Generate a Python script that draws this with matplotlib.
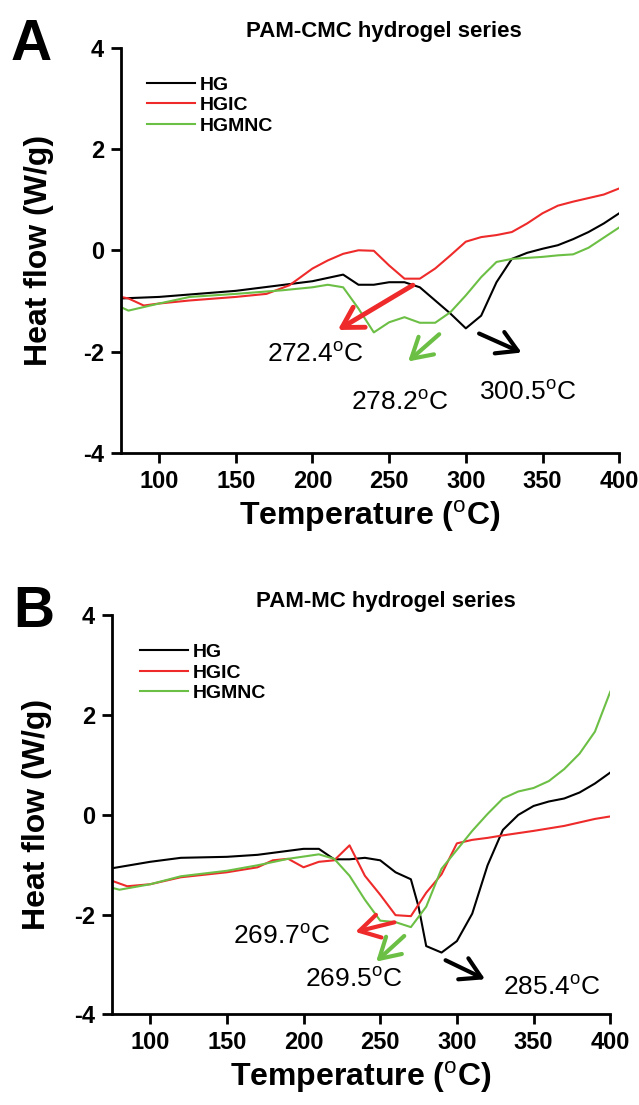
import matplotlib.pyplot as plt

plt.rcParams["font.family"] = ["Liberation Sans", "DejaVu Sans"]
plt.rcParams["axes.unicode_minus"] = False
plt.rcParams["mathtext.fontset"] = "custom"
plt.rcParams["mathtext.rm"] = "Liberation Sans"
plt.rcParams["mathtext.bf"] = "Liberation Sans:bold"

# ---- panel A: PAM-CMC hydrogel series ----
a_hg_t = [75, 100, 150, 200, 220, 230, 240, 250, 260, 270, 280, 290, 300, 310,
          320, 330, 340, 350, 360, 370, 380, 390, 400]
a_hg = [-0.95, -0.92, -0.8, -0.61, -0.48, -0.68, -0.68, -0.63, -0.63, -0.73,
        -0.99, -1.25, -1.54, -1.29, -0.63, -0.17, -0.05, 0.03, 0.1, 0.22, 0.36,
        0.53, 0.73]
a_hgic_t = [75, 80, 90, 100, 120, 150, 170, 185, 200, 210, 220, 230, 240, 250,
            260, 270, 280, 290, 300, 310, 320, 330, 340, 350, 360, 370, 380,
            390, 400]
a_hgic = [-0.92, -0.95, -1.09, -1.05, -0.99, -0.92, -0.86, -0.69, -0.36, -0.2,
          -0.07, 0.0, -0.01, -0.3, -0.56, -0.56, -0.36, -0.1, 0.17, 0.26, 0.3,
          0.36, 0.53, 0.73, 0.88, 0.96, 1.03, 1.1, 1.22]
a_hgmnc_t = [75, 80, 100, 120, 150, 180, 200, 210, 220, 230, 240, 250, 260, 270,
             280, 290, 300, 310, 320, 330, 340, 350, 360, 370, 380, 390, 400]
a_hgmnc = [-1.12, -1.19, -1.05, -0.92, -0.86, -0.79, -0.73, -0.68, -0.73, -1.15,
           -1.62, -1.42, -1.32, -1.43, -1.43, -1.22, -0.89, -0.53, -0.23, -0.17,
           -0.15, -0.13, -0.1, -0.08, 0.05, 0.25, 0.45]

# ---- panel B: PAM-MC hydrogel series ----
b_hg_t = [75, 100, 120, 150, 170, 190, 200, 210, 220, 230, 240, 250, 260, 270,
          275, 280, 290, 300, 310, 320, 330, 340, 350, 360, 370, 380, 390, 400]
b_hg = [-1.07, -0.94, -0.86, -0.84, -0.8, -0.72, -0.68, -0.68, -0.89, -0.89,
        -0.86, -0.91, -1.15, -1.29, -1.84, -2.63, -2.76, -2.53, -1.98, -1.01,
        -0.3, 0.0, 0.18, 0.27, 0.33, 0.45, 0.63, 0.85]
b_hgic_t = [75, 85, 100, 120, 150, 170, 180, 190, 200, 210, 220, 230, 240, 250,
            260, 270, 280, 290, 300, 310, 320, 330, 350, 370, 390, 400]
b_hgic = [-1.32, -1.43, -1.39, -1.25, -1.15, -1.05, -0.91, -0.88, -1.05, -0.94,
          -0.91, -0.61, -1.22, -1.6, -2.01, -2.03, -1.56, -1.19, -0.57, -0.5,
          -0.46, -0.41, -0.32, -0.22, -0.08, -0.03]
b_hgmnc_t = [75, 80, 100, 120, 150, 170, 190, 210, 220, 230, 240, 250, 260, 270,
             280, 290, 300, 310, 320, 330, 340, 350, 360, 370, 380, 390, 400]
b_hgmnc = [-1.46, -1.5, -1.39, -1.23, -1.12, -1.01, -0.88, -0.79, -0.88, -1.22,
           -1.7, -2.12, -2.15, -2.25, -1.84, -1.08, -0.7, -0.32, 0.02, 0.33,
           0.47, 0.54, 0.68, 0.92, 1.23, 1.67, 2.47]

labels = ["HG", "HGIC", "HGMNC"]
colors = ["black", "#ee2a2a", "#6cbf45"]
deg = "$^{\\mathrm{o}}$C"

# peak annotations: text, text pos, arrow tail, arrow head, arrow colour, width
a_peaks = [("272.4" + deg, (202, -2.05), (267, -0.66), (215, -1.6), colors[1], 3.5),
           ("278.2" + deg, (257, -3.0), (284, -1.62), (261, -2.23), colors[2], 3),
           ("300.5" + deg, (340, -2.8), (307, -1.62), (338, -2.04), colors[0], 3)]
b_peaks = [("269.7" + deg, (186, -2.43), (261, -2.14), (232, -2.36), colors[1], 3),
           ("269.5" + deg, (233, -3.3), (267, -2.39), (246, -2.98), colors[2], 3),
           ("285.4" + deg, (362, -3.45), (291, -2.89), (320, -3.32), colors[0], 3)]

fig = plt.figure(figsize=(6.39, 11.05), dpi=100)
axA = fig.add_axes([0.189, 0.590, 0.780, 0.367])
axB = fig.add_axes([0.175, 0.082, 0.780, 0.361])


def draw(ax, series, peaks, leg_anchor, ylab_x):
    for (t, y), lab, c in zip(series, labels, colors):
        ax.plot(t, y, color=c, lw=1.5, label=lab)
    ax.set_xlim(75, 400)
    ax.set_ylim(-4, 4)
    ax.set_xticks([100, 150, 200, 250, 300, 350, 400])
    ax.set_yticks([-4, -2, 0, 2, 4])
    ax.spines["top"].set_visible(False)
    ax.spines["right"].set_visible(False)
    for s in ["left", "bottom"]:
        ax.spines[s].set_linewidth(2)
    ax.tick_params(width=2, length=7, pad=5, labelsize=17)
    for lbl in ax.get_xticklabels() + ax.get_yticklabels():
        lbl.set_fontweight("bold")
    ax.set_xlabel("Temperature ($^{\\mathrm{o}}$C)", fontsize=23,
                  fontweight="bold", labelpad=4)
    ax.set_ylabel("Heat flow (W/g)", fontsize=23, fontweight="bold")
    ax.yaxis.set_label_coords(ylab_x, 0.5)
    ax.legend(loc="upper left", bbox_to_anchor=leg_anchor, frameon=False,
              borderpad=0, borderaxespad=0, handlelength=2.5,
              handletextpad=0.25, labelspacing=0.15,
              prop={"weight": "bold", "size": 14})
    for txt, tpos, tail, head, c, w in peaks:
        ax.annotate("", xy=head, xytext=tail,
                    arrowprops=dict(arrowstyle="->,head_length=0.6,head_width=0.35",
                                    color=c, lw=w, mutation_scale=24))
        ax.text(tpos[0], tpos[1], txt, fontsize=19, ha="center", va="center")


draw(axA, [(a_hg_t, a_hg), (a_hgic_t, a_hgic), (a_hgmnc_t, a_hgmnc)], a_peaks,
     (0.052, 0.93), -0.133)
draw(axB, [(b_hg_t, b_hg), (b_hgic_t, b_hgic), (b_hgmnc_t, b_hgmnc)], b_peaks,
     (0.056, 0.93), -0.120)

fig.text(384 / 639, 1 - 37 / 1105, "PAM-CMC hydrogel series", fontsize=16,
         fontweight="bold", ha="center", va="baseline")
fig.text(386 / 639, 1 - 607 / 1105, "PAM-MC hydrogel series", fontsize=16,
         fontweight="bold", ha="center", va="baseline")
fig.text(11 / 639, 1 - 60 / 1105, "A", fontsize=41, fontweight="bold",
         va="baseline")
fig.text(13 / 639, 1 - 627 / 1105, "B", fontsize=41, fontweight="bold",
         va="baseline")

fig.savefig("out.png", dpi=100)
